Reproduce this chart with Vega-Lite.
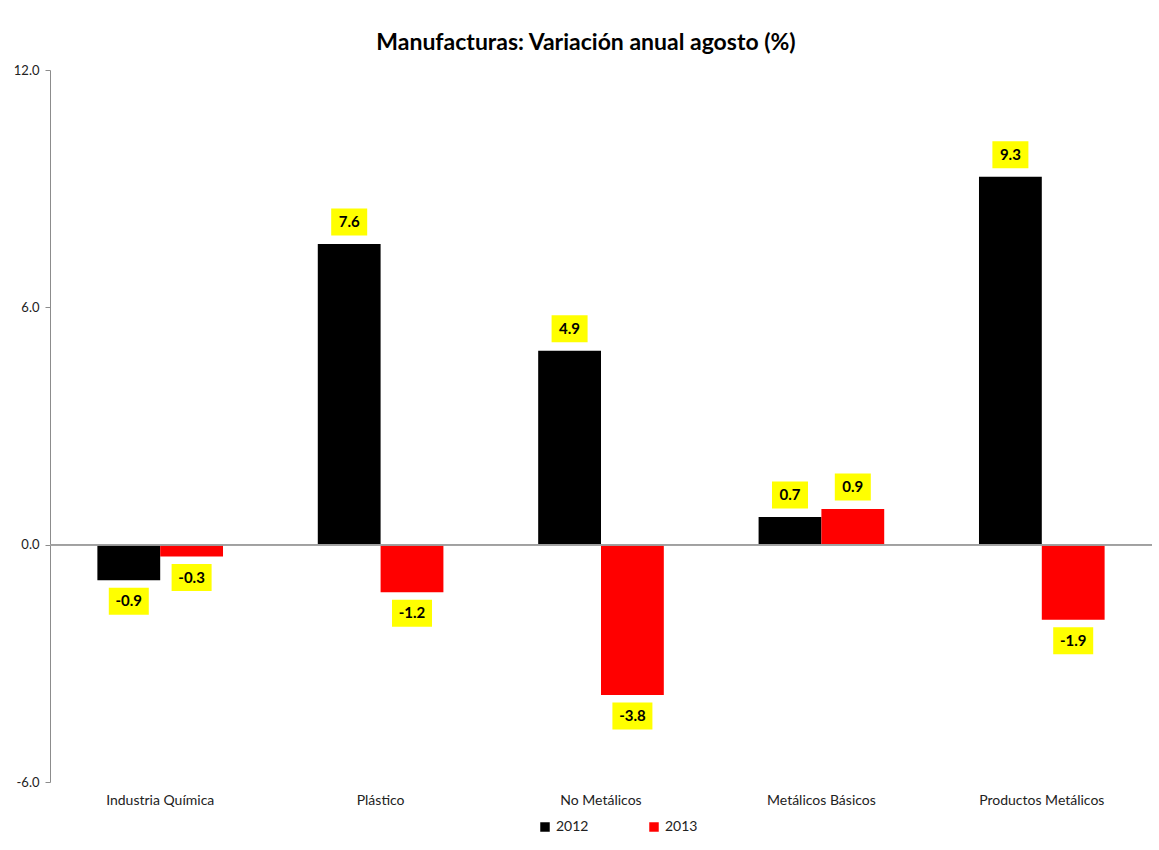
{
  "$schema": "https://vega.github.io/schema/vega-lite/v6.json",
  "width": 1102,
  "height": 712,
  "autosize": "none",
  "padding": {"left": 50, "top": 70, "right": 7, "bottom": 68},
  "background": "white",
  "title": {"text": "Manufacturas: Variación anual agosto (%)", "font": "Lato", "fontSize": 23, "fontWeight": "bold", "color": "#000000", "offset": 9, "dx": -15},
  "data": {"values": [
    {"cat": "Industria Química", "year": "2012", "value": -0.9},
    {"cat": "Industria Química", "year": "2013", "value": -0.3},
    {"cat": "Plástico", "year": "2012", "value": 7.6},
    {"cat": "Plástico", "year": "2013", "value": -1.2},
    {"cat": "No Metálicos", "year": "2012", "value": 4.9},
    {"cat": "No Metálicos", "year": "2013", "value": -3.8},
    {"cat": "Metálicos Básicos", "year": "2012", "value": 0.7},
    {"cat": "Metálicos Básicos", "year": "2013", "value": 0.9},
    {"cat": "Productos Metálicos", "year": "2012", "value": 9.3},
    {"cat": "Productos Metálicos", "year": "2013", "value": -1.9}
  ]},
  "config": {
    "view": {"stroke": null},
    "font": "Lato",
    "locale": {"number": {"decimal": ".", "thousands": ",", "grouping": [3], "currency": ["$", ""], "minus": "-"}}
  },
  "layer": [
    {
      "mark": {"type": "bar"},
      "encoding": {
        "x": {"field": "cat", "type": "nominal", "title": null,
          "sort": ["Industria Química", "Plástico", "No Metálicos", "Metálicos Básicos", "Productos Metálicos"],
          "scale": {"paddingInner": 0.43, "paddingOuter": 0.215},
          "axis": {"domain": false, "ticks": false, "labelAngle": 0, "labelFont": "Lato", "labelFontSize": 14, "labelColor": "#222222", "labelPadding": 11}},
        "xOffset": {"field": "year", "type": "nominal", "scale": {"paddingInner": 0, "paddingOuter": 0}},
        "y": {"field": "value", "type": "quantitative", "title": null,
          "scale": {"domain": [-6, 12], "nice": false, "zero": false},
          "axis": {"values": [-6, 0, 6, 12], "format": ".1f", "grid": false, "tickSize": 5, "domainColor": "#8c8c8c", "tickColor": "#8c8c8c", "labelFont": "Lato", "labelFontSize": 13, "labelColor": "#222222", "labelPadding": 6}},
        "color": {"field": "year", "type": "nominal", "title": null,
          "scale": {"domain": ["2012", "2013"], "range": ["#000000", "#FF0000"]},
          "legend": {"orient": "none", "legendX": 488, "legendY": 750, "direction": "horizontal", "symbolType": "square", "symbolSize": 90, "labelFont": "Lato", "labelFontSize": 14, "labelColor": "#222222", "columnPadding": 58, "symbolOpacity": 1}}
      }
    },
    {
      "mark": {"type": "rule", "color": "#a0a0a0", "strokeWidth": 1.2},
      "encoding": {"y": {"datum": 0, "type": "quantitative"}}
    },
    {
      "transform": [{"filter": "datum.value >= 0"}],
      "mark": {"type": "point", "filled": true, "color": "#FFFF00", "opacity": 1, "shape": "M-1,-0.75H1V0.75H-1Z", "size": 1296, "yOffset": -22},
      "encoding": {
        "x": {"field": "cat", "type": "nominal", "sort": ["Industria Química", "Plástico", "No Metálicos", "Metálicos Básicos", "Productos Metálicos"]},
        "xOffset": {"field": "year", "type": "nominal"},
        "y": {"field": "value", "type": "quantitative"}
      }
    },
    {
      "transform": [{"filter": "datum.value >= 0"}],
      "mark": {"type": "text", "font": "Lato", "fontSize": 15, "fontWeight": "bold", "color": "#000000", "baseline": "middle", "yOffset": -22},
      "encoding": {
        "x": {"field": "cat", "type": "nominal", "sort": ["Industria Química", "Plástico", "No Metálicos", "Metálicos Básicos", "Productos Metálicos"]},
        "xOffset": {"field": "year", "type": "nominal"},
        "y": {"field": "value", "type": "quantitative"},
        "text": {"field": "value", "type": "quantitative", "format": ".1f"}
      }
    },
    {
      "transform": [{"filter": "datum.value < 0"}],
      "mark": {"type": "point", "filled": true, "color": "#FFFF00", "opacity": 1, "shape": "M-1,-0.675H1V0.675H-1Z", "size": 1600, "yOffset": 21},
      "encoding": {
        "x": {"field": "cat", "type": "nominal", "sort": ["Industria Química", "Plástico", "No Metálicos", "Metálicos Básicos", "Productos Metálicos"]},
        "xOffset": {"field": "year", "type": "nominal"},
        "y": {"field": "value", "type": "quantitative"}
      }
    },
    {
      "transform": [{"filter": "datum.value < 0"}],
      "mark": {"type": "text", "font": "Lato", "fontSize": 15, "fontWeight": "bold", "color": "#000000", "baseline": "middle", "yOffset": 21},
      "encoding": {
        "x": {"field": "cat", "type": "nominal", "sort": ["Industria Química", "Plástico", "No Metálicos", "Metálicos Básicos", "Productos Metálicos"]},
        "xOffset": {"field": "year", "type": "nominal"},
        "y": {"field": "value", "type": "quantitative"},
        "text": {"field": "value", "type": "quantitative", "format": ".1f"}
      }
    }
  ]
}
